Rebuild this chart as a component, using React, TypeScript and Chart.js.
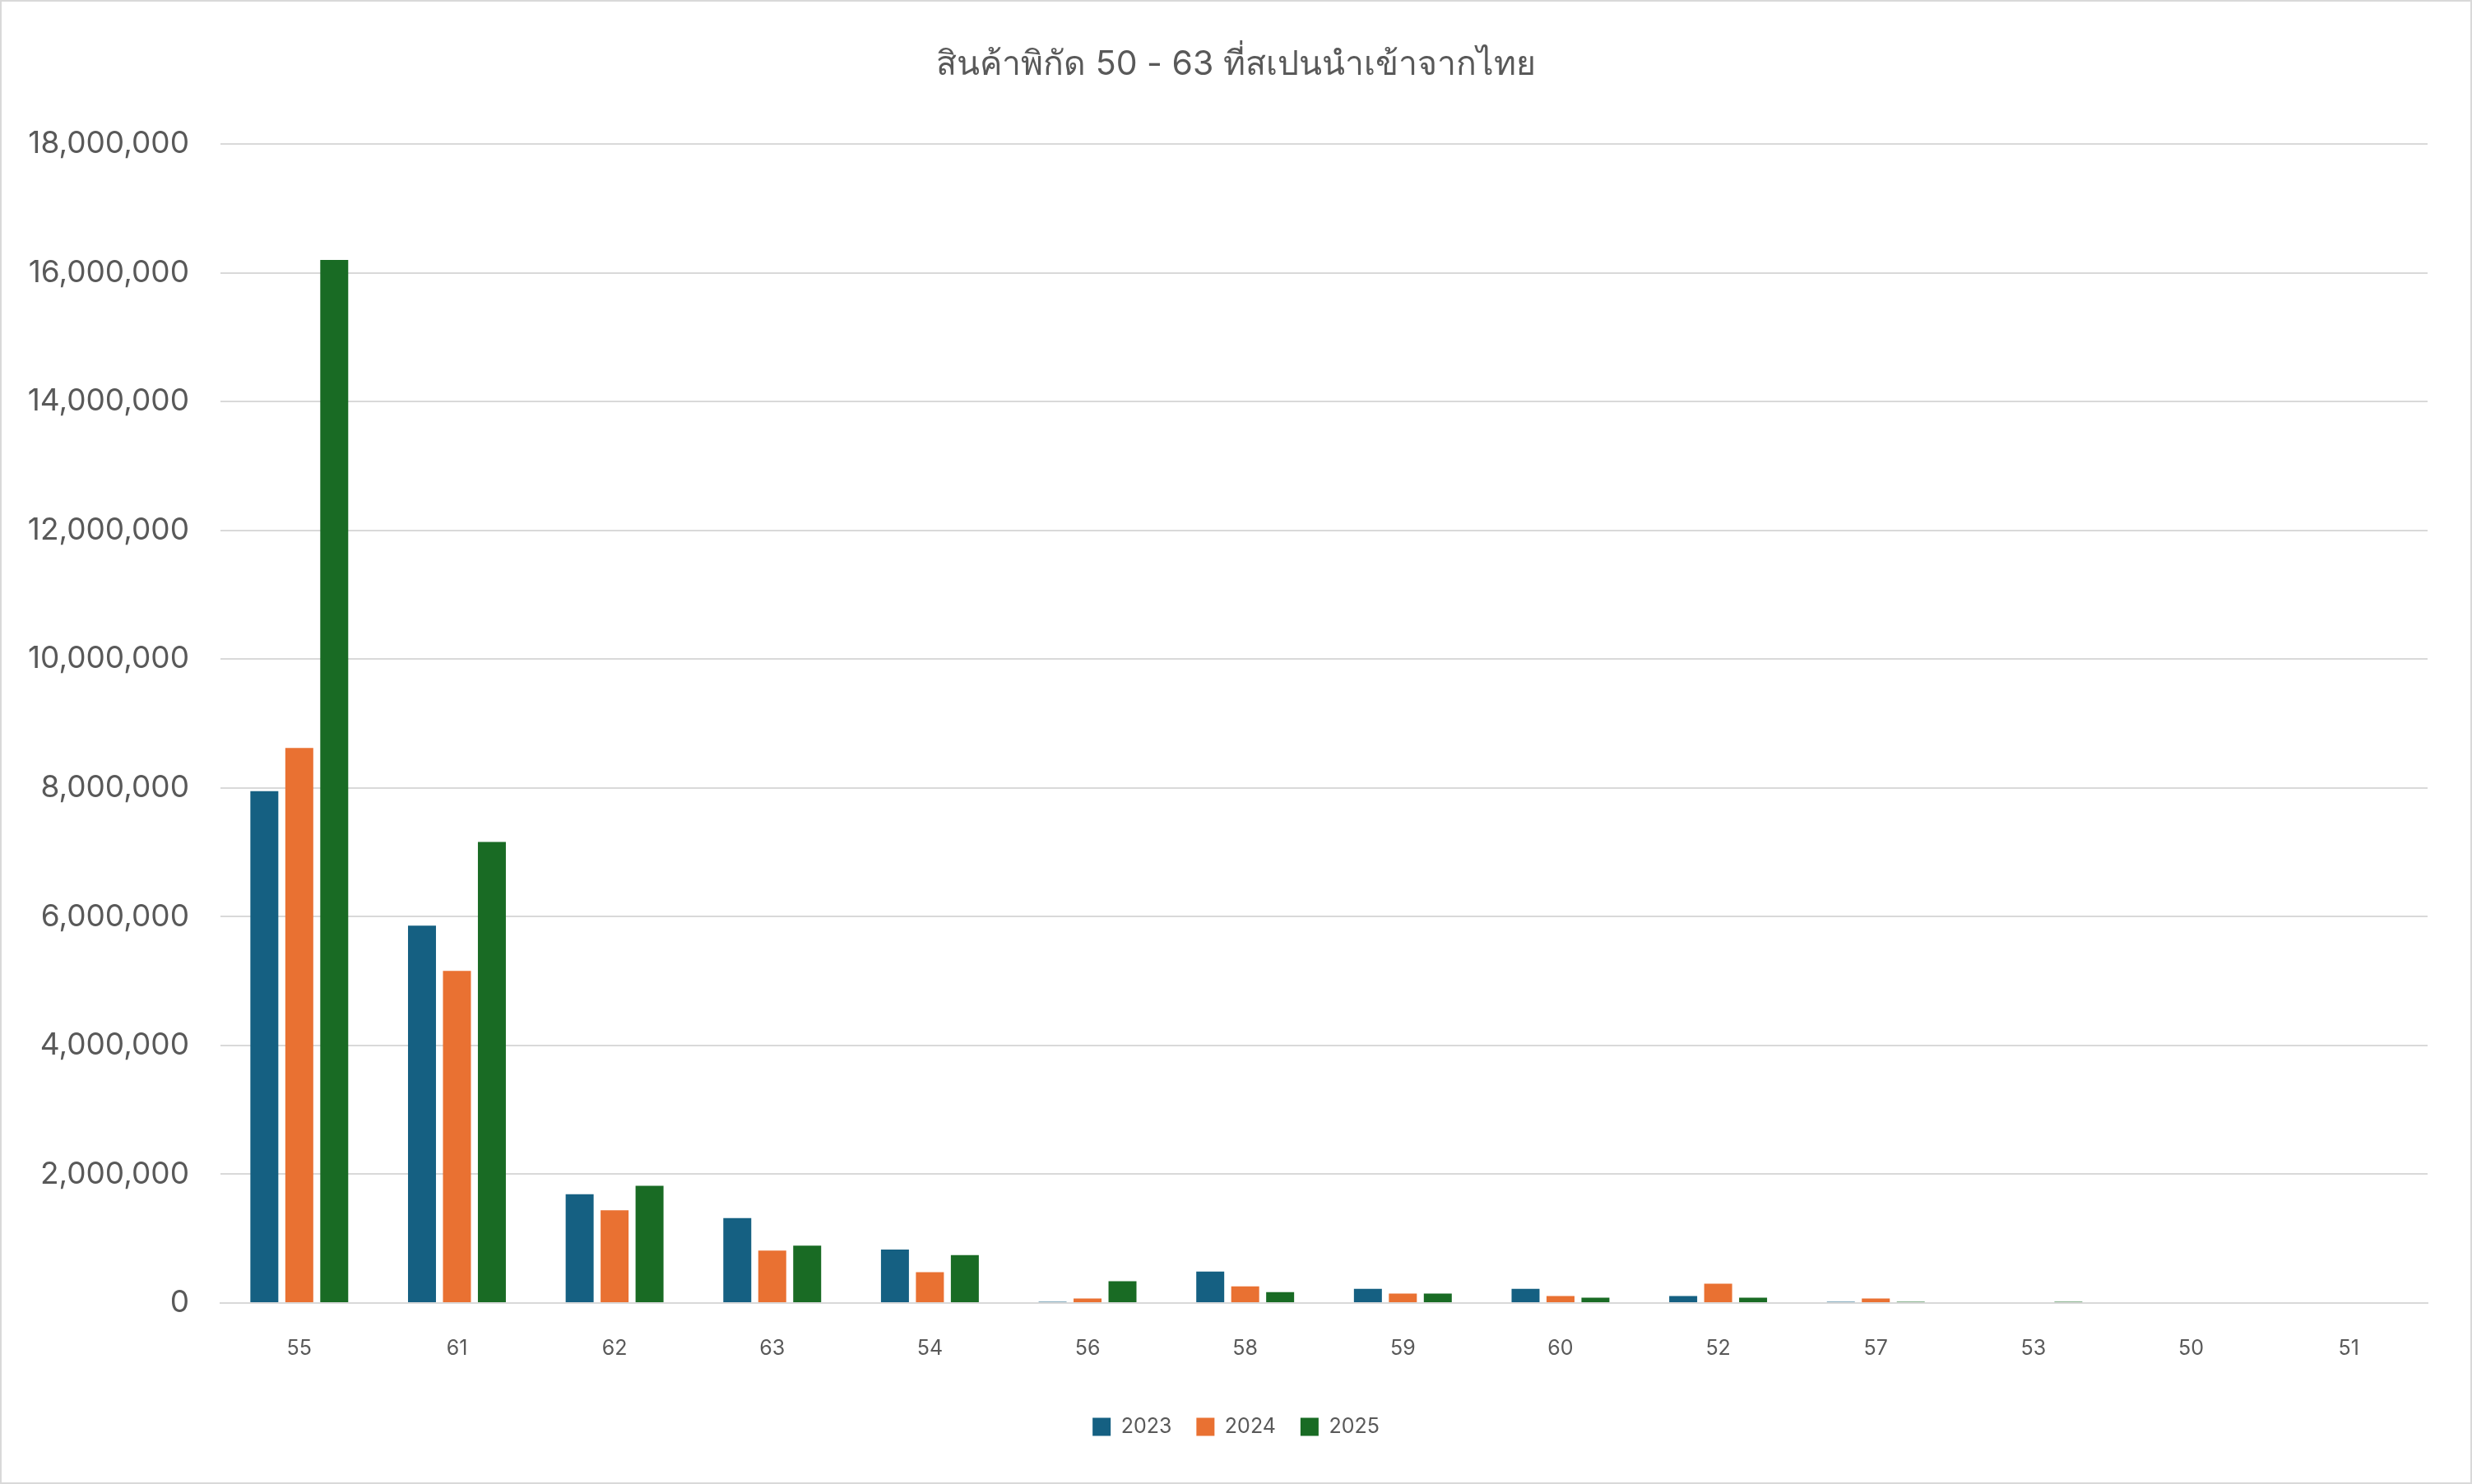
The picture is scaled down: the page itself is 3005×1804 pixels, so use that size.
import React, { useEffect, useRef } from 'react';
import { Chart, registerables } from 'chart.js';

Chart.register(...registerables);

const categories = ['55', '61', '62', '63', '54', '56', '58', '59', '60', '52', '57', '53', '50', '51'];
const seriesNames = ['2023', '2024', '2025'];
const values2023 = [7950000, 5860000, 1690000, 1320000, 830000, 20000, 490000, 220000, 220000, 110000, 20000, 0, 0, 0];
const values2024 = [8620000, 5160000, 1440000, 815000, 478000, 70000, 260000, 147000, 108000, 300000, 70000, 0, 0, 0];
const values2025 = [16200000, 7160000, 1820000, 890000, 745000, 340000, 170000, 147000, 83000, 83000, 20000, 20000, 0, 0];
const yTicks = [0, 2000000, 4000000, 6000000, 8000000, 10000000, 12000000, 14000000, 16000000, 18000000];
const title = 'สินค้าพิกัด 50 - 63 ที่สเปนนำเข้าจากไทย';

const colors = ['#156082', '#E97132', '#196B24'];
const textColor = '#595959';
const gridColor = '#D9D9D9';
const fontFamily = 'Inter, "Noto Sans", sans-serif';

const App = () => {
    const chartRef = useRef<HTMLCanvasElement | null>(null);

    useEffect(() => {
        let myChart: Chart<'bar', number[], string> | null = null;
        const canvas = chartRef.current;
        if (canvas) {
            const ctx = canvas.getContext('2d');
            if (ctx) {
                myChart = new Chart(ctx, {
                    type: 'bar',
                    data: {
                        labels: categories,
                        datasets: [values2023, values2024, values2025].map((vals, i) => ({
                            label: seriesNames[i],
                            data: vals,
                            backgroundColor: colors[i],
                            borderWidth: 0,
                            categoryPercentage: 0.665,
                            barPercentage: 0.8,
                        })),
                    },
                    options: {
                        responsive: false,
                        animation: false,
                        layout: { padding: { left: 0, right: 0, top: 0, bottom: 45 } },
                        plugins: {
                            title: {
                                display: true,
                                text: title,
                                color: textColor,
                                font: { size: 41, weight: 'normal', family: fontFamily, lineHeight: 1.2 },
                                padding: { top: 52, bottom: 72 },
                            },
                            legend: {
                                position: 'bottom',
                                labels: {
                                    color: textColor,
                                    boxWidth: 22,
                                    boxHeight: 22,
                                    padding: 30,
                                    font: { size: 25, family: fontFamily },
                                },
                            },
                            tooltip: { enabled: false },
                        },
                        scales: {
                            x: {
                                grid: { display: false, drawTicks: false },
                                border: { display: true, color: gridColor, width: 2 },
                                ticks: {
                                    color: textColor,
                                    padding: 40,
                                    font: { size: 25, family: fontFamily },
                                },
                                afterFit: (scale) => { scale.height = 108; },
                            },
                            y: {
                                min: 0,
                                max: 18000000,
                                afterBuildTicks: (scale) => { scale.ticks = yTicks.map(v => ({ value: v })); },
                                grid: { color: gridColor, lineWidth: 2, drawTicks: false },
                                border: { display: false },
                                ticks: {
                                    color: textColor,
                                    padding: 38,
                                    font: { size: 37, family: fontFamily },
                                    callback: (v) => Number(v).toLocaleString('en-US'),
                                },
                                afterFit: (scale) => { scale.width = 266; },
                            },
                            // empty right-hand axis, only reserves the right margin
                            spacer: {
                                type: 'linear',
                                position: 'right',
                                grid: { display: false, drawTicks: false },
                                border: { display: false },
                                ticks: { display: false },
                                afterFit: (scale) => { scale.width = 52; },
                            },
                        },
                    },
                });
            }
        }
        return () => {
            if (myChart) {
                myChart.destroy();
            }
        };
    }, []);

    return (
        <div style={{
            position: 'absolute', left: 0, top: 0, width: 3005, height: 1804,
            boxSizing: 'border-box', border: '2px solid #D9D9D9', background: '#fff',
        }}>
            <canvas ref={chartRef} width={3001} height={1800} style={{ display: 'block' }}></canvas>
        </div>
    );
};

export default App;
